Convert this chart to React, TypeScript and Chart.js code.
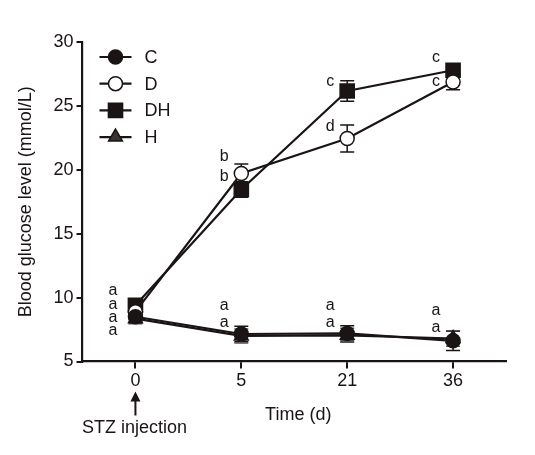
import React, { useEffect, useRef } from "react";
import { Chart, registerables } from "chart.js";

Chart.register(...registerables);

// ---- Data ----
const categories = ["0", "5", "21", "36"];
const seriesNames = ["C", "D", "DH", "H"];
const valuesC = [8.5, 7.15, 7.2, 6.62];
const valuesD = [8.9, 19.71, 22.45, 26.87];
const valuesDH = [9.4, 18.46, 26.17, 27.79];
const valuesH = [8.35, 7.0, 7.05, 6.8];
const errorsC = [0.4, 0.6, 0.6, 0.75];
const errorsD = [0.5, 0.75, 1.05, 0.6];
const errorsDH = [0.45, 0.6, 0.8, 0.35];
const errorsH = [0.4, 0.55, 0.55, 0.6];
const yTickValues = [5, 10, 15, 20, 25, 30];

// significance letters: category index, value, text
const letterCats = [0, 0, 0, 0, 1, 1, 2, 2, 3, 3, 1, 1, 2, 2, 3, 3];
const letterValues = [10.53, 9.49, 8.42, 7.38, 9.36, 8.08, 9.41, 8.08, 8.97, 7.69, 21.01, 19.44, 26.87, 23.41, 28.78, 26.87];
const letterTexts = ["a", "a", "a", "a", "a", "a", "a", "a", "a", "a", "b", "b", "c", "d", "c", "c"];

const xTitle = "Time (d)";
const yTitle = "Blood glucose level (mmol/L)";
const arrowLabel = "STZ injection";

const FONT = "'Liberation Sans', Arial, Helvetica, sans-serif";
const INK = "#1a1414";

function drawMarker(ctx: CanvasRenderingContext2D, style: string, x: number, y: number, r: number, fill: string, stroke: string, lw: number) {
  ctx.save();
  ctx.beginPath();
  if (style === "circle") {
    ctx.arc(x, y, r, 0, Math.PI * 2);
  } else if (style === "rect") {
    const s = r * Math.SQRT1_2;
    ctx.rect(x - s, y - s, 2 * s, 2 * s);
  } else {
    for (let i = 0; i < 3; i++) {
      const a = (i * 2 * Math.PI) / 3;
      const px = x + Math.sin(a) * r;
      const py = y - Math.cos(a) * r;
      if (i === 0) ctx.moveTo(px, py);
      else ctx.lineTo(px, py);
    }
    ctx.closePath();
  }
  ctx.fillStyle = fill;
  ctx.fill();
  ctx.lineWidth = lw;
  ctx.strokeStyle = stroke;
  ctx.stroke();
  ctx.restore();
}

const errorBarPlugin = {
  id: "errorBars",
  beforeDatasetsDraw(chart: any) {
    const ctx = chart.ctx as CanvasRenderingContext2D;
    const yScale = chart.scales.y;
    ctx.save();
    chart.data.datasets.forEach((ds: any, i: number) => {
      const meta = chart.getDatasetMeta(i);
      meta.data.forEach((pt: any, j: number) => {
        const v = ds.data[j];
        const e = ds.errors[j];
        const top = yScale.getPixelForValue(v + e);
        const bot = yScale.getPixelForValue(v - e);
        ctx.beginPath();
        ctx.moveTo(pt.x, top);
        ctx.lineTo(pt.x, bot);
        ctx.moveTo(pt.x - 7, top);
        ctx.lineTo(pt.x + 7, top);
        ctx.moveTo(pt.x - 7, bot);
        ctx.lineTo(pt.x + 7, bot);
        ctx.lineWidth = 1.5;
        ctx.strokeStyle = ds.errorColor || INK;
        ctx.stroke();
      });
    });
    ctx.restore();
  },
};

const decorPlugin = {
  id: "decor",
  afterDraw(chart: any) {
    const ctx = chart.ctx as CanvasRenderingContext2D;
    const area = chart.chartArea;
    const xScale = chart.scales.x;
    const yScale = chart.scales.y;
    ctx.save();

    // legend
    chart.data.datasets.forEach((ds: any, i: number) => {
      const y = area.top + 15 + i * 26.7;
      const x0 = area.left + 17;
      const x1 = area.left + 49;
      ctx.beginPath();
      ctx.moveTo(x0, y);
      ctx.lineTo(x1, y);
      ctx.lineWidth = 2.2;
      ctx.strokeStyle = INK;
      ctx.stroke();
      drawMarker(ctx, ds.pointStyle, (x0 + x1) / 2, y, ds.pointRadius, ds.pointBackgroundColor, ds.pointBorderColor, ds.pointBorderWidth);
      ctx.fillStyle = INK;
      ctx.font = `18px ${FONT}`;
      ctx.textAlign = "left";
      ctx.textBaseline = "middle";
      ctx.fillText(ds.label, area.left + 62, y + 1);
    });

    // significance letters
    ctx.font = `16px ${FONT}`;
    ctx.textAlign = "center";
    ctx.textBaseline = "middle";
    ctx.fillStyle = INK;
    letterTexts.forEach((t, k) => {
      const cat = letterCats[k];
      const px = xScale.getPixelForValue(cat) - (cat === 0 ? 22.5 : 17);
      const py = yScale.getPixelForValue(letterValues[k]);
      ctx.fillText(t, px, py);
    });

    // x title
    ctx.font = `18px ${FONT}`;
    ctx.textAlign = "center";
    ctx.textBaseline = "middle";
    ctx.fillText(xTitle, (area.left + area.right) / 2 + 4, area.bottom + 54);

    // arrow + STZ injection
    const ax = xScale.getPixelForValue(0);
    const tipY = area.bottom + 30;
    ctx.beginPath();
    ctx.moveTo(ax, tipY + 8);
    ctx.lineTo(ax, area.bottom + 54);
    ctx.lineWidth = 2;
    ctx.strokeStyle = INK;
    ctx.stroke();
    ctx.beginPath();
    ctx.moveTo(ax, tipY);
    ctx.lineTo(ax - 5, tipY + 10);
    ctx.lineTo(ax + 5, tipY + 10);
    ctx.closePath();
    ctx.fill();
    ctx.fillText(arrowLabel, ax - 1, area.bottom + 67);

    ctx.restore();
  },
};

export default function App() {
  const canvasRef = useRef<HTMLCanvasElement | null>(null);

  useEffect(() => {
    if (!canvasRef.current) return;
    const mk = (label: string, data: number[], errors: number[], style: string, radius: number, fill: string, errorColor: string) => ({
      label,
      data,
      errors,
      errorColor,
      borderColor: INK,
      borderWidth: 2.2,
      pointStyle: style,
      pointRadius: radius,
      pointHoverRadius: radius,
      pointBackgroundColor: fill,
      pointBorderColor: INK,
      pointBorderWidth: 1.5,
      tension: 0,
      fill: false,
    });
    const chart = new Chart(canvasRef.current, {
      type: "line",
      data: {
        labels: categories,
        datasets: [
          mk(seriesNames[0], valuesC, errorsC, "circle", 7, INK, INK),
          mk(seriesNames[1], valuesD, errorsD, "circle", 7, "#ffffff", INK),
          mk(seriesNames[2], valuesDH, errorsDH, "rect", 10, INK, INK),
          mk(seriesNames[3], valuesH, errorsH, "triangle", 8, "#3a3535", "#555050"),
        ] as any,
      },
      options: {
        animation: false,
        responsive: false,
        events: [],
        layout: { padding: { left: 0, right: 29, top: 42, bottom: 0 } },
        plugins: { legend: { display: false }, tooltip: { enabled: false }, title: { display: false } },
        scales: {
          x: {
            type: "category",
            offset: true,
            afterFit: (s: any) => { s.height = 455 - 361.5; },
            grid: { display: true, drawOnChartArea: false, drawTicks: true, tickLength: 7, offset: false, color: INK, lineWidth: 2 },
            border: { display: true, color: INK, width: 2.2 },
            ticks: { color: INK, font: { size: 18, family: FONT }, padding: 2, maxRotation: 0, autoSkip: false },
          },
          y: {
            min: 5,
            max: 30,
            afterFit: (s: any) => { s.width = 82.5; },
            afterBuildTicks: (s: any) => { s.ticks = yTickValues.map((v) => ({ value: v })); },
            grid: { display: true, drawOnChartArea: false, drawTicks: true, tickLength: 6, color: INK, lineWidth: 2 },
            border: { display: true, color: INK, width: 2.2 },
            ticks: { color: INK, font: { size: 18, family: FONT }, padding: 3 },
            title: { display: true, text: yTitle, color: INK, font: { size: 18, family: FONT }, padding: { top: 15, bottom: 0 } },
          },
        },
      } as any,
      plugins: [errorBarPlugin, decorPlugin],
    });
    return () => chart.destroy();
  }, []);

  return (
    <div style={{ position: "absolute", left: 0, top: 0, width: 535, height: 455, background: "#fff" }}>
      <canvas ref={canvasRef} width={535} height={455} />
    </div>
  );
}
